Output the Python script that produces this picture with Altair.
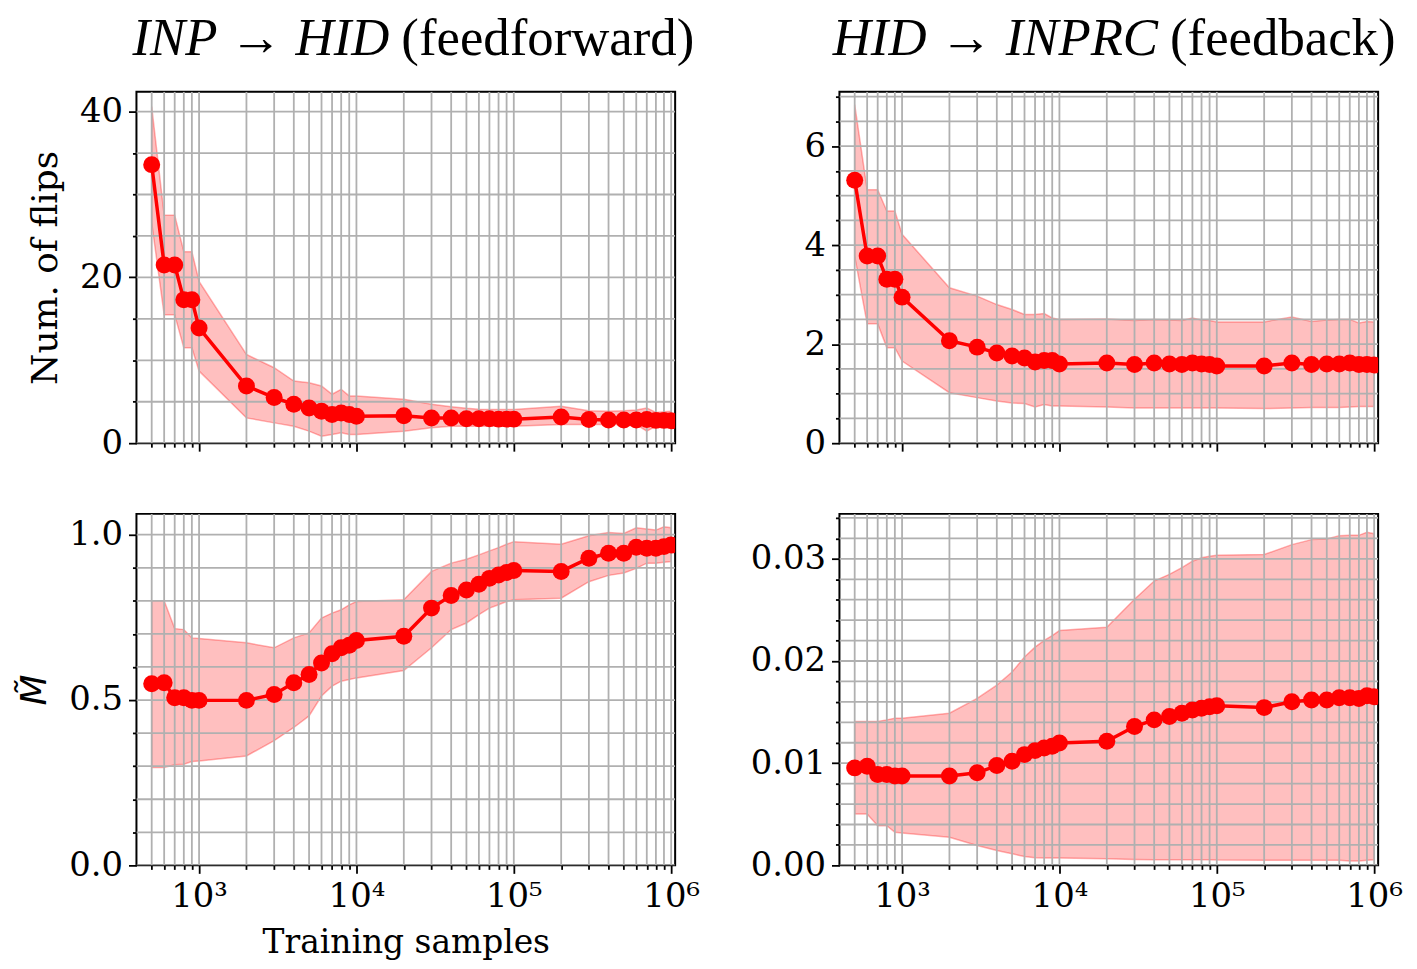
import altair as alt
import pandas as pd

# ---------------- data ----------------
X = [500, 600, 700, 800, 900, 1000, 2000, 3000, 4000, 5000, 6000, 7000, 8000, 9000, 10000,
     20000, 30000, 40000, 50000, 60000, 70000, 80000, 90000, 100000,
     200000, 300000, 400000, 500000, 600000, 700000, 800000, 900000, 1000000]

X_TICKS = [500, 600, 700, 800, 900, 1000, 2000, 3000, 4000, 5000, 6000, 7000, 8000, 9000, 10000,
           20000, 30000, 40000, 50000, 60000, 70000, 80000, 90000, 100000,
           200000, 300000, 400000, 500000, 600000, 700000, 800000, 900000, 1000000]
X_MAJOR = [1000, 10000, 100000, 1000000]
X_MAJOR_LABELS = ["10³", "10⁴", "10⁵", "10⁶"]

# INP -> HID, number of flips
ff_flips_mean = [33.6, 21.5, 21.5, 17.3, 17.3, 13.9, 6.9, 5.5, 4.7, 4.25, 3.85, 3.45, 3.65, 3.45, 3.25,
                 3.3, 3.05, 3.05, 2.95, 2.95, 2.95, 2.9, 2.9, 2.9,
                 3.15, 2.85, 2.8, 2.8, 2.8, 2.85, 2.75, 2.75, 2.7]
ff_flips_hi = [40.6, 27.5, 27.5, 23.1, 23.1, 19.5, 10.7, 9.1, 7.5, 7.3, 6.9, 5.9, 6.5, 5.7, 5.7,
               5.3, 4.7, 4.4, 4.2, 4.1, 4.05, 4.05, 4.05, 4.05,
               4.45, 3.9, 3.85, 3.9, 4.0, 4.25, 3.7, 3.8, 3.85]
ff_flips_lo = [26.6, 15.5, 15.5, 11.5, 11.5, 8.7, 3.05, 2.45, 2.05, 1.45, 0.85, 1.05, 1.25, 1.05, 1.05,
               1.45, 1.85, 2.05, 2.05, 2.05, 2.05, 2.05, 2.05, 2.05,
               2.25, 2.25, 2.25, 2.25, 2.25, 1.45, 2.05, 2.05, 2.05]

# HID -> INPRC, number of flips
fb_flips_mean = [5.31, 3.78, 3.78, 3.31, 3.31, 2.95, 2.07, 1.94, 1.82, 1.76, 1.72, 1.64, 1.67, 1.67, 1.60,
                 1.62, 1.59, 1.62, 1.60, 1.59, 1.62, 1.60, 1.59, 1.56,
                 1.56, 1.62, 1.59, 1.60, 1.60, 1.62, 1.59, 1.59, 1.58]
fb_flips_hi = [6.84, 5.12, 5.12, 4.69, 4.69, 4.22, 3.14, 2.97, 2.80, 2.70, 2.60, 2.60, 2.62, 2.53, 2.50,
               2.51, 2.48, 2.50, 2.49, 2.48, 2.53, 2.49, 2.48, 2.45,
               2.45, 2.55, 2.46, 2.49, 2.50, 2.50, 2.43, 2.46, 2.45]
fb_flips_lo = [3.78, 2.41, 2.41, 1.93, 1.93, 1.66, 1.02, 0.92, 0.85, 0.81, 0.80, 0.73, 0.78, 0.75, 0.75,
               0.73, 0.71, 0.71, 0.71, 0.71, 0.71, 0.71, 0.71, 0.71,
               0.70, 0.71, 0.72, 0.72, 0.72, 0.73, 0.74, 0.74, 0.74]

# INP -> HID, M~
ff_m_mean = [0.549, 0.552, 0.507, 0.507, 0.499, 0.499, 0.499, 0.517, 0.552, 0.577, 0.612, 0.640, 0.658, 0.666, 0.680,
             0.693, 0.778, 0.816, 0.833, 0.850, 0.868, 0.878, 0.886, 0.892,
             0.889, 0.929, 0.944, 0.944, 0.962, 0.959, 0.959, 0.964, 0.969]
ff_m_hi = [0.800, 0.800, 0.716, 0.713, 0.688, 0.686, 0.673, 0.658, 0.688, 0.703, 0.748, 0.763, 0.773, 0.788, 0.798,
           0.803, 0.889, 0.914, 0.926, 0.939, 0.951, 0.961, 0.971, 0.979,
           0.971, 0.997, 1.007, 1.004, 1.021, 1.017, 1.014, 1.024, 1.021]
ff_m_lo = [0.296, 0.296, 0.304, 0.306, 0.314, 0.316, 0.331, 0.377, 0.417, 0.452, 0.512, 0.542, 0.557, 0.562, 0.567,
           0.589, 0.658, 0.713, 0.733, 0.758, 0.778, 0.788, 0.798, 0.803,
           0.808, 0.858, 0.877, 0.884, 0.898, 0.914, 0.914, 0.917, 0.919]

# HID -> INPRC, M~
fb_m_mean = [0.00954, 0.00971, 0.00890, 0.00890, 0.00874, 0.00874, 0.00874, 0.00906, 0.00977, 0.01019, 0.01084,
             0.01123, 0.01149, 0.01165, 0.01197, 0.01214, 0.01359, 0.01424, 0.01456, 0.01489, 0.01521, 0.01537,
             0.01553, 0.01563, 0.01544, 0.01602, 0.01618, 0.01618, 0.01641, 0.01641, 0.01634, 0.01660, 0.01650]
fb_m_hi = [0.01408, 0.01408, 0.01408, 0.01424, 0.01440, 0.01440, 0.01489, 0.01634, 0.01764, 0.01893, 0.02039,
           0.02136, 0.02201, 0.02249, 0.02298, 0.02330, 0.02605, 0.02783, 0.02848, 0.02913, 0.02977, 0.03010,
           0.03026, 0.03036, 0.03042, 0.03139, 0.03188, 0.03194, 0.03227, 0.03230, 0.03230, 0.03259, 0.03246]
fb_m_lo = [0.00502, 0.00502, 0.00388, 0.00388, 0.00323, 0.00318, 0.00275, 0.00194, 0.00146, 0.00113, 0.00087,
           0.00074, 0.00071, 0.00071, 0.00071, 0.00065, 0.00058, 0.00055, 0.00055, 0.00055, 0.00055, 0.00055,
           0.00055, 0.00052, 0.00049, 0.00049, 0.00049, 0.00049, 0.00049, 0.00042, 0.00042, 0.00049, 0.00055]

TL_YTICKS = [0, 5, 10, 15, 20, 25, 30, 35, 40]
TR_YTICKS = [0, 0.5, 1, 1.5, 2, 2.5, 3, 3.5, 4, 4.5, 5, 5.5, 6, 6.5, 7]
BL_YTICKS = [0, 0.1, 0.2, 0.3, 0.4, 0.5, 0.6, 0.7, 0.8, 0.9, 1.0]
BR_YTICKS = [0, 0.002, 0.004, 0.006, 0.008, 0.01, 0.012, 0.014, 0.016, 0.018, 0.02,
             0.022, 0.024, 0.026, 0.028, 0.03, 0.032, 0.034]

TITLE_LEFT = ("INP → HID", "(feedforward)")
TITLE_RIGHT = ("HID → INPRC", "(feedback)")

W, H = 541, 353
XDOMAIN = [400, 1060000]

RED = "#ff0000"
GRID = "#b0b0b0"
SERIF = "DejaVu Serif"
TITLE_FONT = "Liberation Serif"

major_test = "indexof([" + ",".join(str(v) for v in X_MAJOR) + "], datum.value) >= 0"
label_expr = " : ".join(
    f"datum.value == {v} ? '{t}'" for v, t in zip(X_MAJOR, X_MAJOR_LABELS)) + " : ''"


def make_panel(mean, lo, hi, ydomain, yticks, ymajor_step, yfmt, show_xlabels, xtitle, ytitle,
               ytitle_font, ytitle_style, title_parts, title_split):
    df = pd.DataFrame({"x": X, "m": mean, "lo": lo, "hi": hi})
    xaxis = alt.Axis(
        values=X_TICKS,
        labels=show_xlabels,
        labelExpr=label_expr,
        tickSize={"condition": {"test": major_test, "value": 8}, "value": 4},
        title=xtitle,
    )
    ytest = f"abs(datum.value / {ymajor_step} - round(datum.value / {ymajor_step})) < 1e-6"
    yaxis = alt.Axis(
        values=yticks,
        labelExpr=f"{ytest} ? format(datum.value, '{yfmt}') : ''",
        tickSize={"condition": {"test": ytest, "value": 8}, "value": 4},
        title=ytitle,
        titleFont=ytitle_font,
        titleFontStyle=ytitle_style,
    )
    xscale = alt.Scale(type="log", domain=XDOMAIN, nice=False)
    yscale = alt.Scale(domain=ydomain, nice=False, zero=False)
    xenc = alt.X("x:Q", scale=xscale, axis=xaxis)
    base = alt.Chart(df)
    band = base.mark_area(color=RED, fillOpacity=0.25, stroke=RED, strokeOpacity=0.3,
                          strokeWidth=1.5, clip=True).encode(
        x=xenc, y=alt.Y("lo:Q", scale=yscale, axis=yaxis), y2="hi:Q")
    # grid lines drawn above the band but below the line and markers
    vgrid = alt.Chart(pd.DataFrame({"x": X_TICKS})).mark_rule(
        color=GRID, strokeWidth=1.8, clip=True).encode(x=xenc)
    hgrid = alt.Chart(pd.DataFrame({"y": yticks})).mark_rule(
        color=GRID, strokeWidth=1.8, clip=True).encode(
        y=alt.Y("y:Q", scale=yscale, axis=yaxis))
    line = base.mark_line(color=RED, strokeWidth=3.5, clip=True).encode(
        x=xenc, y=alt.Y("m:Q", scale=yscale, axis=yaxis))
    pts = base.mark_circle(color=RED, size=290, opacity=1, clip=True).encode(
        x=xenc, y=alt.Y("m:Q", scale=yscale, axis=yaxis))
    layers = [band, vgrid, hgrid, line, pts]
    if title_parts is not None:
        tdf = pd.DataFrame({"a": [title_parts[0]], "b": [title_parts[1]]})
        t1 = alt.Chart(tdf).mark_text(font=TITLE_FONT, fontSize=53, fontStyle="italic",
                                      align="right", baseline="alphabetic", color="black").encode(
            x=alt.value(title_split), y=alt.value(-37), text="a:N")
        t2 = alt.Chart(tdf).mark_text(font=TITLE_FONT, fontSize=53, align="left",
                                      baseline="alphabetic", color="black").encode(
            x=alt.value(title_split + 12), y=alt.value(-37), text="b:N")
        layers += [t1, t2]
    return alt.layer(*layers).properties(width=W, height=H)


tl = make_panel(ff_flips_mean, ff_flips_lo, ff_flips_hi, [0, 42.4], TL_YTICKS, 20, "d", False, None,
                "Num. of flips", SERIF, "normal", TITLE_LEFT, 254)
bl = make_panel(ff_m_mean, ff_m_lo, ff_m_hi, [0, 1.063], BL_YTICKS, 0.5, ".1f", True, "Training samples",
                "M̃", "DejaVu Sans", "italic", None, 0)
tr = make_panel(fb_flips_mean, fb_flips_lo, fb_flips_hi, [0, 7.1], TR_YTICKS, 2, "d", False, None,
                None, SERIF, "normal", TITLE_RIGHT, 320)
br = make_panel(fb_m_mean, fb_m_lo, fb_m_hi, [0, 0.0344], BR_YTICKS, 0.01, ".2f", True, None,
                None, SERIF, "normal", None, 0)

chart = alt.concat(tl, tr, bl, br, columns=2, spacing={"row": 39, "column": 48}).properties(
    padding={"left": 7, "top": 2, "right": 5, "bottom": 0},
    background="white",
).configure_view(
    stroke="black", strokeWidth=2
).configure_axis(
    grid=False,
    domain=False,
    tickColor="black", tickWidth=1.8,
    labelFont=SERIF, labelFontSize=34, labelColor="black", labelPadding=6,
    titleFont=SERIF, titleFontSize=36, titleFontWeight="normal", titleColor="black",
    labelFlush=False, labelOverlap=False,
).configure_axisY(
    titlePadding=15
).configure_axisX(
    titlePadding=14, titleFontSize=33
)

chart.save("out.html", embed_options={"renderer": "svg", "actions": False})
